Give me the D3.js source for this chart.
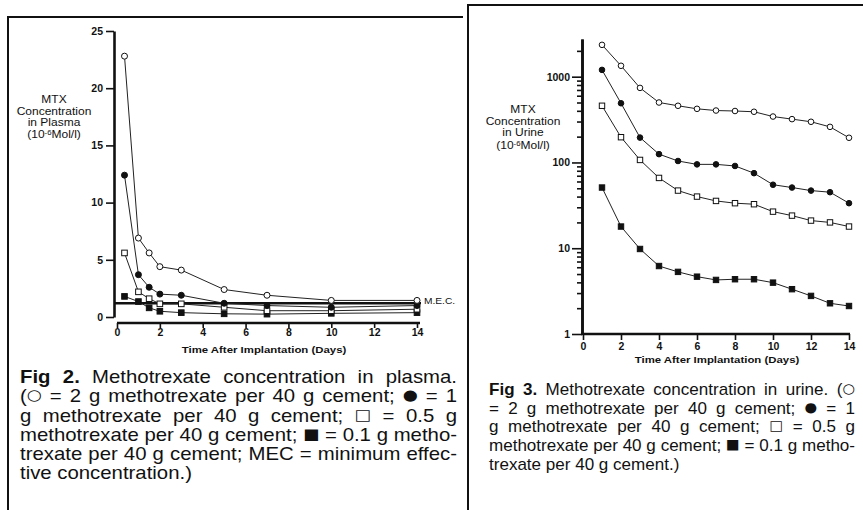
<!DOCTYPE html>
<html lang="en">
<head>
<meta charset="utf-8">
<title>Methotrexate concentration</title>
<script src="https://d3js.org/d3.v7.min.js"></script>
<style>
  body { margin: 0; background: #fff; }
  svg { font-family: "Liberation Sans", Arial, sans-serif; }
  .axis .domain { stroke: #111; stroke-width: 2.6px; }
  .axis line { stroke: #111; stroke-width: 1.6px; }
  .axis text { font-family: "Liberation Sans", Arial, sans-serif; font-weight: bold; font-size: 10.5px; fill: #111; }
  .series { fill: none; stroke: #222; stroke-width: 1px; }
  .sym { font-family: "DejaVu Sans", sans-serif; }
</style>
</head>
<body>
<div id="chart"></div>
<script>

// ---- data ----------------------------------------------------------
// Fig 2, plasma (10^-6 Mol/l), sampling days
var plasmaDays   = [0.35, 1, 1.5, 2, 3, 5, 7, 10, 14];
var plasma2g     = [22.8, 6.9, 5.6, 4.4, 4.1, 2.4, 1.9, 1.45, 1.45];
var plasma1g     = [12.4, 3.7, 2.6, 2.0, 1.9, 1.2, 1.0, 0.85, 1.0];
var plasma05g    = [5.6, 2.2, 1.6, 1.15, 1.15, 0.85, 0.55, 0.55, 0.68];
var plasma01g    = [1.8, 1.35, 0.8, 0.5, 0.38, 0.28, 0.25, 0.32, 0.38];
var plasmaMEC    = 1.2;
var plasmaYTicks = [0, 5, 10, 15, 20, 25];
var dayTicks     = [0, 2, 4, 6, 8, 10, 12, 14];

// Fig 3, urine (10^-6 Mol/l), one sample per day
var urineDays = [1, 2, 3, 4, 5, 6, 7, 8, 9, 10, 11, 12, 13, 14];
var urine2g   = [2350, 1340, 740, 500, 458, 422, 403, 398, 390, 343, 320, 298, 260, 194];
var urine1g   = [1200, 490, 195, 125, 104, 95, 95, 91, 75, 55, 51, 47, 45, 33.5];
var urine05g  = [458, 197, 107, 66, 47, 40, 35.6, 33.5, 32.6, 26.7, 24, 21, 20, 17.9];
var urine01g  = [51, 17.9, 9.8, 6.2, 5.3, 4.66, 4.27, 4.35, 4.35, 3.97, 3.33, 2.78, 2.28, 2.12];
var urineMajor = [1, 10, 100, 1000];
var urineMinor = [2,3,4,5,6,7,8,9, 20,30,40,50,60,70,80,90, 200,300,400,500,600,700,800,900, 2000];

var cap2 = [
  {bold: "Fig 2.", text: " Methotrexate concentration in plasma.", justify: true},
  {text: "(\u25CB = 2 g methotrexate per 40 g cement; \u25CF = 1", justify: true},
  {text: "g methotrexate per 40 g cement; \u25A1 = 0.5 g", justify: true},
  {text: "methotrexate per 40 g cement; \u25A0 = 0.1 g metho-", justify: true},
  {text: "trexate per 40 g cement; MEC = minimum effec-", justify: true},
  {text: "tive concentration.)", justify: false}
];
var cap3 = [
  {bold: "Fig 3.", text: " Methotrexate concentration in urine. (\u25CB", justify: true},
  {text: "= 2 g methotrexate per 40 g cement; \u25CF = 1", justify: true},
  {text: "g methotrexate per 40 g cement; \u25A1 = 0.5 g", justify: true},
  {text: "methotrexate per 40 g cement; \u25A0 = 0.1 g metho-", justify: true},
  {text: "trexate per 40 g cement.)", justify: false}
];

// ---- page ----------------------------------------------------------
var width = 863, height = 510;
var svg = d3.select("#chart").append("svg")
    .attr("width", width)
    .attr("height", height);

// panel frames
svg.append("path")
    .attr("d", "M8,510V17H463")
    .attr("fill", "none").attr("stroke", "#111").attr("stroke-width", 2);
svg.append("path")
    .attr("d", "M468,510V5H863")
    .attr("fill", "none").attr("stroke", "#111").attr("stroke-width", 2);

// stretched text (the scan is a bit wider than tall)
function stext(g, x, y, str, size, anchor, weight) {
  return g.append("text")
      .attr("transform", "translate(" + x + "," + y + ") scale(1.2,1)")
      .attr("text-anchor", anchor || "middle")
      .attr("font-size", size)
      .attr("font-weight", weight || "normal")
      .attr("fill", "#111")
      .text(str);
}

function yTitle(g, cx, ys, what) {
  stext(g, cx, ys[0], "MTX", 10);
  stext(g, cx, ys[1], "Concentration", 10);
  stext(g, cx, ys[2], what, 10);
  var t = stext(g, cx, ys[3], "", 10);
  t.append("tspan").text("(10");
  t.append("tspan").attr("font-size", 6.5).attr("dy", -3.5).text("-6");
  t.append("tspan").attr("dy", 3.5).text("Mol/l)");
}

function drawMarkers(g, xs, ys, x, y, kind, fill, r) {
  var line = d3.line()
      .x(function(d) { return x(d[0]); })
      .y(function(d) { return y(d[1]); });
  var pts = xs.map(function(d, i) { return [d, ys[i]]; });
  g.append("path").attr("class", "series").attr("d", line(pts));
  if (kind == "circle") {
    g.selectAll(null).data(pts).enter().append("circle")
        .attr("cx", function(d) { return x(d[0]); })
        .attr("cy", function(d) { return y(d[1]); })
        .attr("r", r)
        .attr("fill", fill).attr("stroke", "#111").attr("stroke-width", 1);
  } else {
    g.selectAll(null).data(pts).enter().append("rect")
        .attr("x", function(d) { return x(d[0]) - r; })
        .attr("y", function(d) { return y(d[1]) - r; })
        .attr("width", 2 * r).attr("height", 2 * r)
        .attr("fill", fill).attr("stroke", "#111").attr("stroke-width", 1);
  }
}

//------------------------------------------------------------------------
// FIG 2 plasma
var px = d3.scaleLinear().domain([0, 14]).range([117, 417]);
var py = d3.scaleLinear().domain([0, 25]).range([317, 31]);
var g2 = svg.append("g");

g2.append("g")
    .attr("class", "axis")
    .attr("transform", "translate(114,0)")
    .call(d3.axisLeft(py).tickValues(plasmaYTicks).tickSize(8).tickSizeOuter(0).tickPadding(3));

g2.append("g")
    .attr("class", "axis")
    .attr("transform", "translate(0,323)")
    .call(d3.axisBottom(px).tickValues(dayTicks).tickSize(5).tickSizeOuter(0).tickPadding(1))
  .select(".domain")
    .attr("d", "M" + px(0) + ",0H" + (px(14) + 3));

yTitle(g2, 54, [103, 114.5, 126, 138], "in Plasma");
stext(g2, 264, 352.5, "Time After Implantation (Days)", 9.5, "middle", "bold");

// minimum effective concentration
g2.append("line")
    .attr("x1", 114).attr("x2", 421)
    .attr("y1", py(plasmaMEC)).attr("y2", py(plasmaMEC))
    .attr("stroke", "#111").attr("stroke-width", 2.4);
stext(g2, 424, py(plasmaMEC) + 1, "M.E.C.", 8.5, "start");

drawMarkers(g2, plasmaDays, plasma01g, px, py, "square", "#111", 2.8);
drawMarkers(g2, plasmaDays, plasma05g, px, py, "square", "#fff", 2.8);
drawMarkers(g2, plasmaDays, plasma1g, px, py, "circle", "#111", 3);
drawMarkers(g2, plasmaDays, plasma2g, px, py, "circle", "#fff", 3);

//------------------------------------------------------------------------
// FIG 3 urine
var ux = d3.scaleLinear().domain([0, 14]).range([583, 849]);
var uy = d3.scaleLog().domain([1, 2750]).range([334, 39]);
var g3 = svg.append("g");

g3.append("g")
    .attr("class", "axis")
    .attr("transform", "translate(582,0)")
    .call(d3.axisLeft(uy).tickValues(urineMinor).tickFormat("").tickSize(5).tickSizeOuter(0));
g3.append("g")
    .attr("class", "axis")
    .attr("transform", "translate(582,0)")
    .call(d3.axisLeft(uy).tickValues(urineMajor).tickFormat(d3.format("d")).tickSize(10).tickSizeOuter(0).tickPadding(2));

g3.append("g")
    .attr("class", "axis")
    .attr("transform", "translate(0,334)")
    .call(d3.axisBottom(ux).tickValues(dayTicks).tickSize(6).tickSizeOuter(0).tickPadding(3))
  .select(".domain")
    .attr("d", "M581,0H" + (ux(14) + 1));

yTitle(g3, 523, [113, 124.5, 136, 149], "in Urine");
stext(g3, 717, 362.5, "Time After Implantation (Days)", 9.5, "middle", "bold");

drawMarkers(g3, urineDays, urine01g, ux, uy, "square", "#111", 2.7);
drawMarkers(g3, urineDays, urine05g, ux, uy, "square", "#fff", 2.7);
drawMarkers(g3, urineDays, urine1g, ux, uy, "circle", "#111", 2.8);
drawMarkers(g3, urineDays, urine2g, ux, uy, "circle", "#fff", 2.8);

//------------------------------------------------------------------------
// captions, justified by word spacing
function caption(lines, x0, x1, y0, dy, size) {
  var g = svg.append("g");
  var texts = lines.map(function(ln, i) {
    var t = g.append("text")
        .attr("x", 0).attr("y", y0 + i * dy)
        .attr("font-size", size)
        .attr("fill", "#111")
        .style("white-space", "pre");
    if (ln.bold) t.append("tspan").attr("font-weight", "bold").text(ln.bold);
    // symbols in a font that draws them at letter size
    ln.text.split(/([\u25A0\u25A1\u25CB\u25CF])/).forEach(function(part) {
      if (!part) return;
      var sp = t.append("tspan").text(part);
      if (/[\u25A0\u25A1\u25CB\u25CF]/.test(part)) {
        sp.attr("class", "sym").attr("font-size", size * 0.85)
          .attr("baseline-shift", size * 0.12);
      }
    });
    return t;
  });
  // stretch so the tightest line fills the column
  var tight = texts[3].node().getComputedTextLength();
  var s = (x1 - x0) / tight;
  g.attr("transform", "translate(" + x0 + ",0) scale(" + s + ",1)");
  texts.forEach(function(t, i) {
    if (!lines[i].justify) return;
    var full = (lines[i].bold || "") + lines[i].text;
    var n = full.split(" ").length - 1;
    var w = t.node().getComputedTextLength();
    t.attr("word-spacing", ((x1 - x0) / s - w) / n);
  });
}

caption(cap2, 20, 457, 383, 19.3, 17.5);
caption(cap3, 489, 855, 395, 18.7, 16);

</script>
</body>
</html>
